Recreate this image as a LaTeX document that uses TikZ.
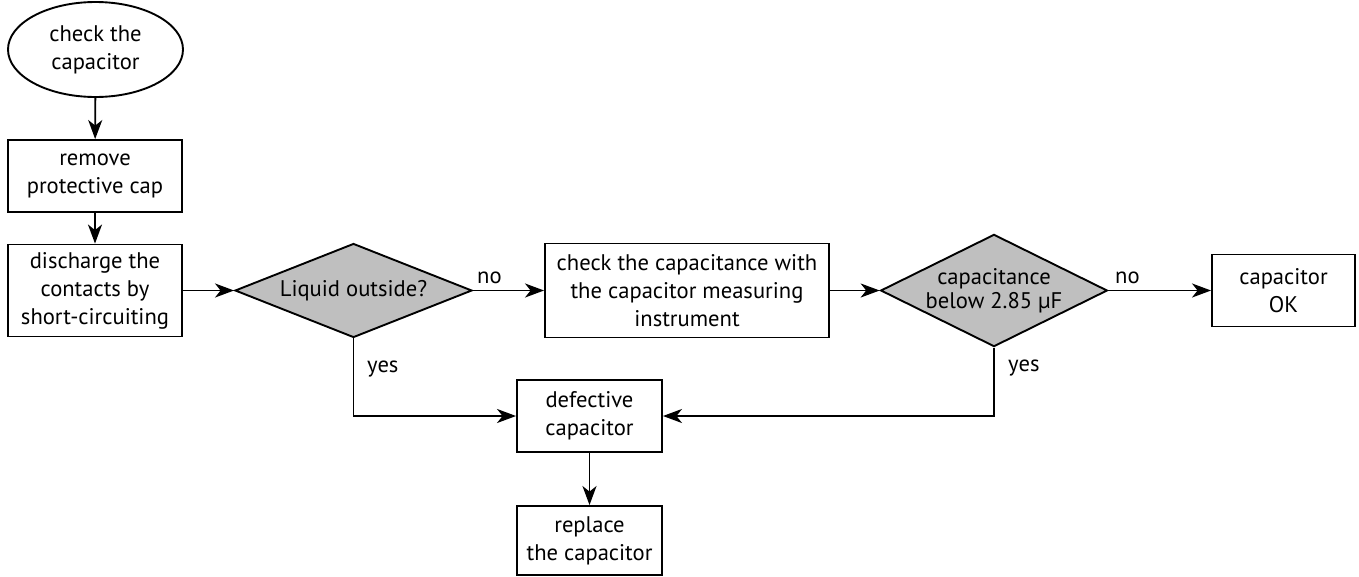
\documentclass[tikz,border=0pt]{standalone}
\usepackage{fontspec}
\setmainfont{PT Sans}
\usetikzlibrary{shapes.geometric,arrows.meta}
\begin{document}
\begin{tikzpicture}[x=1pt,y=-1pt,
  every node/.style={font=\fontsize{22.6}{28}\selectfont, align=center, inner sep=0pt},
  conn/.style={line width=1.9pt, -{Stealth[length=19pt,width=14pt,inset=5.5pt]}},
  boxnode/.style={draw, line width=1.9pt, rectangle},
  decision/.style={draw, line width=1.9pt, diamond, fill=black!25},
  lbl/.style={anchor=base west}]
\useasboundingbox (0,0) rectangle (1359,576);
\node[draw, line width=1.9pt, ellipse, minimum width=175pt, minimum height=95pt] (start) at (95.5,49.5) {check the\\capacitor};
\node[boxnode, minimum width=174pt, minimum height=72pt] (remove) at (95,176) {remove\\protective cap};
\node[boxnode, minimum width=174pt, minimum height=92pt] (discharge) at (95,290.5) {discharge the\\contacts by\\short-circuiting};
\node[decision, shape aspect=2.52, minimum width=237pt, minimum height=94pt] (liquid) at (353.5,290.5) {Liquid outside?};
\node[boxnode, minimum width=284pt, minimum height=94pt] (check) at (687,290.5) {check the capacitance with\\the capacitor measuring\\instrument};
\node[decision, shape aspect=2.02, minimum width=222pt, minimum height=110pt, font=\fontsize{22.6}{24}\selectfont] (cap) at (994,290.5) {capacitance\\below 2.85 µF};
\node[boxnode, minimum width=143pt, minimum height=72pt] (ok) at (1283.5,290.5) {capacitor\\OK};
\node[boxnode, minimum width=145pt, minimum height=72pt] (defect) at (589.5,416) {defective\\capacitor};
\node[boxnode, minimum width=145pt, minimum height=69pt] (replace) at (589.5,540.5) {replace\\the capacitor};
\draw[conn] (start) -- (remove);
\draw[conn] (remove) -- (discharge);
\draw[conn] (discharge.east) -- (liquid.west);
\draw[conn] (liquid.east) -- (check.west);
\draw[conn] (check.east) -- (cap.west);
\draw[conn] (cap.east) -- (ok.west);
\draw[conn] (liquid.south) |- (defect.west);
\draw[conn] (cap.south) |- (defect.east);
\draw[conn] (defect) -- (replace);
\node[lbl] (no1) at (477,283) {no};
\node[lbl] (no2) at (1115,283) {no};
\node[lbl] (yes1) at (367,372) {yes};
\node[lbl] (yes2) at (1008,371) {yes};
\end{tikzpicture}
\end{document}
